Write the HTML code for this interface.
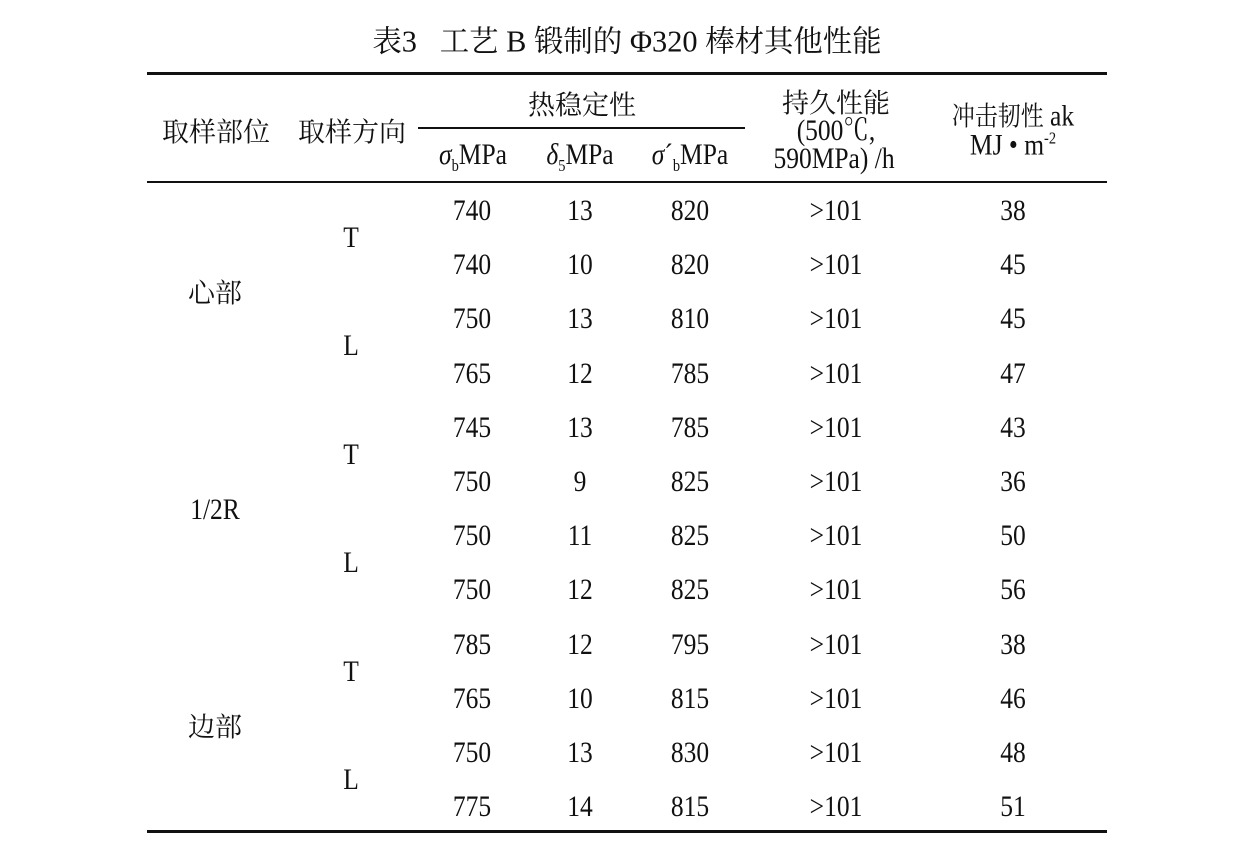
<!DOCTYPE html>
<html><head><meta charset="utf-8"><style>
body{margin:0;background:#fff;width:1242px;height:846px;position:relative;overflow:hidden;font-family:"Liberation Serif","Noto Serif CJK SC",serif;color:#111}
.t{position:absolute;white-space:nowrap;transform:translate(-50%,-50%) scaleX(0.85);font-size:30px;line-height:1}
.c{font-family:"Noto Serif CJK SC","Noto Sans CJK SC",serif;font-size:27px}
.cc{transform:translate(-50%,-50%)}
.l{position:absolute;background:#111}
sub,sup{font-size:17px}
</style></head><body>
<div class="t" style="left:627px;top:40px;font-size:31px;transform:translate(-50%,-50%) scaleX(0.98)"><span class="c" style="font-size:30px">表</span>3&nbsp;&nbsp;&nbsp;<span class="c" style="font-size:30px">工艺</span> B <span class="c" style="font-size:30px">锻制的</span> Φ320 <span class="c" style="font-size:30px">棒材其他性能</span></div>
<div class="l" style="left:147px;top:72px;width:960px;height:3px"></div>
<div class="l" style="left:418px;top:127px;width:327px;height:1.5px"></div>
<div class="l" style="left:147px;top:181px;width:960px;height:1.5px"></div>
<div class="l" style="left:147px;top:830px;width:960px;height:3px"></div>
<div class="t c cc" style="left:216px;top:130px">取样部位</div>
<div class="t c cc" style="left:352px;top:130px">取样方向</div>
<div class="t c cc" style="left:582px;top:103px">热稳定性</div>
<div class="t" style="left:473px;top:157px"><i>σ</i><sub>b</sub>MPa</div>
<div class="t" style="left:580px;top:157px"><i>δ</i><sub>5</sub>MPa</div>
<div class="t" style="left:690px;top:157px"><i>σ</i>´<sub>b</sub>MPa</div>
<div class="t c cc" style="left:836px;top:101px">持久性能</div>
<div class="t" style="left:836px;top:131px">(500℃,</div>
<div class="t" style="left:834px;top:159px">590MPa) /h</div>
<div class="t" style="left:1013px;top:116px"><span class="c">冲击韧性</span> ak</div>
<div class="t" style="left:1013px;top:145px">MJ • m<sup>-2</sup></div>
<div id="rows"></div>
<script>
var d=[["740","13","820","38"],["740","10","820","45"],["750","13","810","45"],["765","12","785","47"],["745","13","785","43"],["750","9","825","36"],["750","11","825","50"],["750","12","825","56"],["785","12","795","38"],["765","10","815","46"],["750","13","830","48"],["775","14","815","51"]];
var h="";
for(var i=0;i<12;i++){var y=211+i*54.2;var r=d[i];
h+='<div class="t" style="left:472px;top:'+y+'px">'+r[0]+'</div>';
h+='<div class="t" style="left:580px;top:'+y+'px">'+r[1]+'</div>';
h+='<div class="t" style="left:690px;top:'+y+'px">'+r[2]+'</div>';
h+='<div class="t" style="left:836px;top:'+y+'px">&gt;101</div>';
h+='<div class="t" style="left:1013px;top:'+y+'px">'+r[3]+'</div>';}
for(var j=0;j<6;j++){var y=238+j*108.4;h+='<div class="t" style="left:351px;top:'+y+'px">'+(j%2?'L':'T')+'</div>';}
var g=['<span class="c">心部</span>','1/2R','<span class="c">边部</span>'];
for(var k=0;k<3;k++){var y=293+k*216.8;h+='<div class="t'+(k!=1?' cc':'')+'" style="left:215px;top:'+y+'px">'+g[k]+'</div>';}
document.getElementById('rows').innerHTML=h;
</script>
</body></html>
